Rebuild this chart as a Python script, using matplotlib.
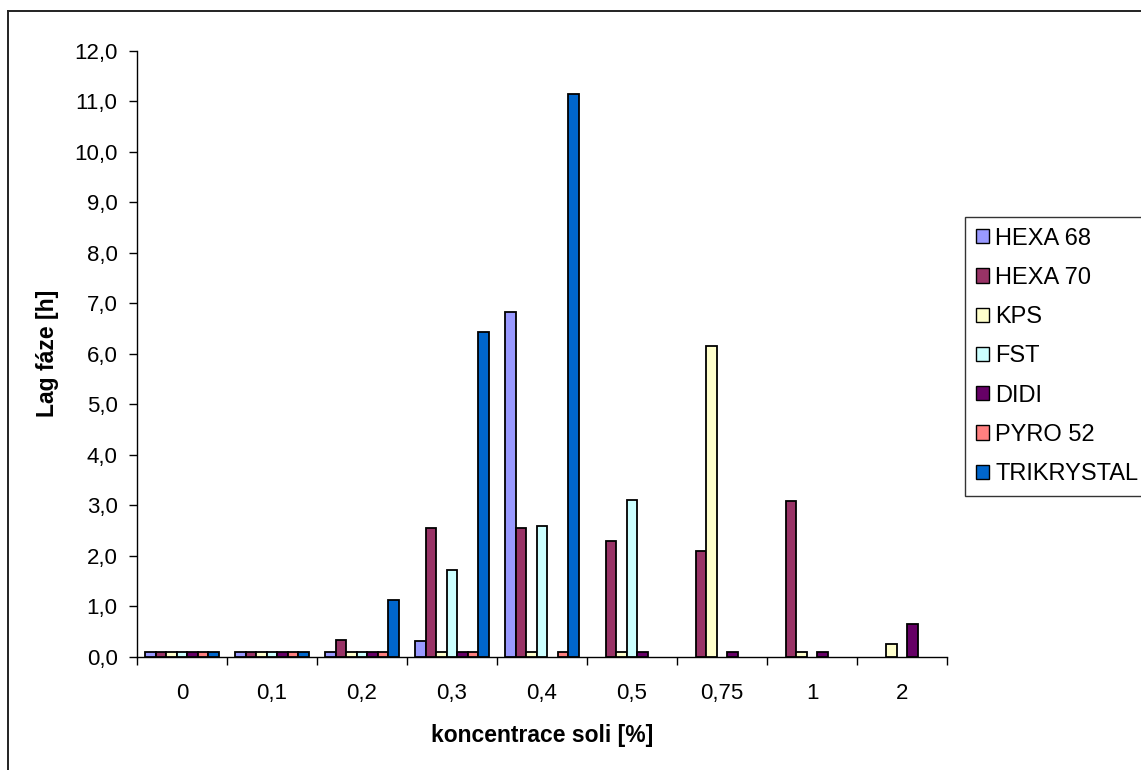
import numpy as np
import matplotlib
matplotlib.use("Agg")
import matplotlib.pyplot as plt
from matplotlib.lines import Line2D

plt.rcParams['font.family'] = ['Liberation Sans', 'DejaVu Sans']

categories = ['0', '0,1', '0,2', '0,3', '0,4', '0,5', '0,75', '1', '2']
series_names = ['HEXA 68', 'HEXA 70', 'KPS', 'FST', 'DIDI', 'PYRO 52', 'TRIKRYSTAL']
nan = np.nan
hexa68 = [0.1, 0.1, 0.1, 0.32, 6.83, nan, nan, nan, nan]
hexa70 = [0.1, 0.1, 0.33, 2.56, 2.56, 2.30, 2.09, 3.08, nan]
kps = [0.1, 0.1, 0.1, 0.1, 0.1, 0.1, 6.15, 0.1, 0.26]
fst = [0.1, 0.1, 0.1, 1.73, 2.60, 3.11, nan, nan, nan]
didi = [0.1, 0.1, 0.1, 0.1, nan, 0.1, 0.1, 0.1, 0.65]
pyro52 = [0.1, 0.1, 0.1, 0.1, 0.1, nan, nan, nan, nan]
trikrystal = [0.1, 0.1, 1.13, 6.43, 11.14, nan, nan, nan, nan]
series_values = [hexa68, hexa70, kps, fst, didi, pyro52, trikrystal]
colors = ['#9999FF', '#993366', '#FFFFCC', '#CCFFFF', '#660066', '#FF8080', '#0066CC']

W, H = 1141, 770
fig = plt.figure(figsize=(W / 100, H / 100), dpi=100)
ax = fig.add_axes([137 / W, 1 - 657 / H, (947 - 137) / W, (657 - 50.7) / H])

n = len(series_names)
bw = 1 / 8.5
x = np.arange(len(categories))
for i, (name, vals, c) in enumerate(zip(series_names, series_values, colors)):
    offs = (i - (n - 1) / 2) * bw
    ax.bar(x + offs, np.array(vals, dtype=float), width=bw, color=c,
           edgecolor='black', linewidth=1.3, label=name, zorder=3)

ax.set_xlim(-0.5, len(categories) - 0.5)
ax.set_ylim(0, 12)
ax.set_yticks(np.arange(0, 12.01, 1.0))
ax.set_yticklabels([f"{v:.1f}".replace('.', ',') for v in np.arange(0, 12.01, 1.0)])
ax.set_xticks(np.arange(-0.5, len(categories) - 0.4, 1.0))
ax.set_xticklabels([])
ax.set_xticks(x, minor=True)
ax.set_xticklabels(categories, minor=True)
ax.tick_params(axis='x', which='minor', length=0, pad=19, labelsize=16)
ax.tick_params(axis='x', which='major', length=6, width=1, direction='out')
ax.tick_params(axis='y', length=6, width=1, direction='out', pad=8, labelsize=16)

for s in ['top', 'right']:
    ax.spines[s].set_visible(False)
for s in ['left', 'bottom']:
    ax.spines[s].set_linewidth(1.0)
    ax.spines[s].set_color('black')

ax.set_xlabel('koncentrace soli [%]', fontsize=16.5, fontweight='bold', labelpad=14)
ax.set_ylabel('Lag fáze [h]', fontsize=16.5, fontweight='bold', labelpad=11)

leg = fig.legend(loc='upper left', bbox_to_anchor=(965 / W, 1 - 217 / H),
                 fontsize=17, frameon=True, fancybox=False, shadow=False,
                 handlelength=0.55, handleheight=0.55, handletextpad=0.28,
                 labelspacing=0.73, borderpad=0.45, borderaxespad=0)
leg.get_frame().set_edgecolor('black')
leg.get_frame().set_linewidth(1.0)
for h in leg.legend_handles:
    h.set_linewidth(1.0)

# outer chart border
fig.add_artist(Line2D([7.5 / W, 1], [1 - 10.5 / H, 1 - 10.5 / H], color='#222222', lw=1.4))
fig.add_artist(Line2D([7.5 / W, 7.5 / W], [0, 1 - 10.5 / H], color='#222222', lw=1.4))

fig.savefig('out.png', dpi=100)
